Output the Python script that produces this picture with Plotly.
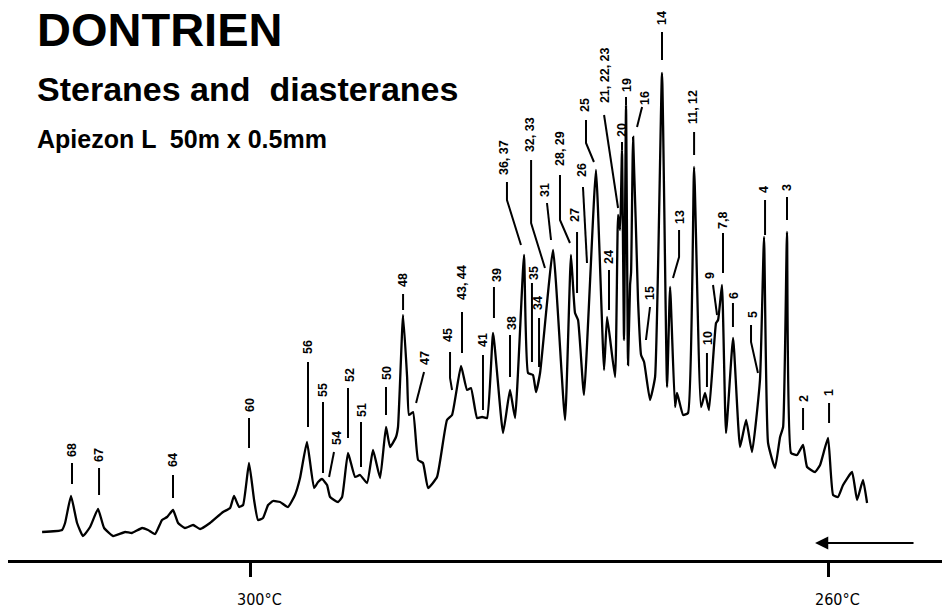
import plotly.graph_objects as go

# ---------------- DATA ----------------
# retention expressed as column temperature (°C), signal in arbitrary detector units
retention_temp = [
    314.39, 313.01, 312.80, 312.39, 311.97, 311.56, 311.07, 310.52, 310.10, 309.48,
    308.65, 308.17, 307.47, 307.06, 306.57, 306.09, 305.74, 305.33, 304.98, 304.50,
    303.94, 303.46, 302.77, 301.87, 301.38, 301.11, 300.76, 300.48, 300.07, 299.72,
    299.45, 299.10, 298.75, 298.41, 297.92, 297.37, 296.89, 296.54, 296.06, 295.57,
    295.29, 295.02, 294.67, 294.46, 293.91, 293.63, 293.22, 292.73, 292.39, 291.90,
    291.49, 291.00, 290.59, 290.31, 289.90, 289.76, 289.41, 289.13, 289.00, 288.72,
    288.37, 288.03, 287.68, 287.06, 286.37, 286.02, 285.40, 284.98, 284.71, 284.29,
    283.94, 283.60, 283.18, 282.49, 282.01, 281.66, 281.04, 280.76, 280.42, 280.21,
    279.93, 279.03, 278.20, 277.79, 277.51, 277.30, 276.89, 276.06, 275.50, 275.29,
    274.74, 274.53, 274.39, 274.26, 274.12, 273.98, 273.84, 273.70, 273.63, 273.49,
    273.15, 272.94, 272.73, 272.32, 271.97, 271.49, 271.14, 270.93, 270.59, 270.45,
    270.03, 269.69, 269.27, 268.79, 268.51, 268.24, 267.75, 267.61, 267.34, 267.06,
    266.57, 266.09, 265.67, 265.26, 264.71, 264.43, 264.15, 263.67, 263.32, 263.11,
    262.84, 262.56, 262.15, 261.73, 261.45, 260.90, 260.55, 260.00, 259.65, 259.31,
    258.96, 258.34, 257.99, 257.58, 257.30,
]
signal = [
    28, 30, 37, 64, 37, 24, 33, 51, 32, 24,
    28, 27, 32, 30, 26, 40, 43, 50, 37, 32,
    35, 31, 37, 48, 52, 64, 53, 55, 97, 60,
    40, 42, 55, 59, 58, 53, 65, 82, 118, 72,
    78, 81, 75, 63, 58, 63, 107, 83, 85, 77,
    110, 82, 133, 113, 123, 133, 245, 183, 145, 148,
    100, 97, 72, 83, 140, 145, 194, 170, 172, 142,
    143, 142, 227, 127, 170, 142, 305, 187, 185, 168,
    187, 310, 140, 305, 247, 240, 165, 390, 190, 243,
    183, 345, 330, 410, 220, 455, 195, 275, 288, 423,
    260, 205, 198, 160, 183, 487, 173, 273, 153, 167,
    145, 147, 393, 153, 167, 150, 237, 240, 275, 127,
    222, 113, 140, 108, 180, 323, 117, 92, 123, 133,
    328, 107, 105, 115, 93, 88, 95, 122, 65, 63,
    75, 88, 60, 80, 57,
]

axis_ticks = [300, 260]
axis_tick_labels = ["300°C", "260°C"]

peak_labels = ["68", "67", "64", "60", "56", "55", "54", "52", "51", "50",
               "48", "47", "45", "43, 44", "41", "39", "38", "36, 37", "35", "34",
               "32, 33", "31", "28, 29", "27", "26", "25", "24", "21, 22, 23", "20", "19",
               "16", "15", "14", "13", "11, 12", "10", "9", "7,8", "6", "5",
               "4", "3", "2", "1"]

# ---------------- LAYOUT (label placement, leader lines) ----------------
# (text position (°C, signal), leader polyline [(°C, signal), ...])
label_geom = [
    ((312.32, 110), [(312.32, 97), (312.32, 76)]),
    ((310.45, 105), [(310.45, 92), (310.45, 65)]),
    ((305.33, 100), [(305.33, 85), (305.33, 62)]),
    ((300.00, 155), [(300.07, 142), (300.07, 112)]),
    ((295.99, 213), [(295.99, 198), (295.99, 133)]),
    ((294.95, 170), [(294.95, 158), (294.95, 87)]),
    ((293.98, 122), [(294.19, 108), (294.53, 83)]),
    ((293.08, 185), [(293.22, 172), (293.22, 122)]),
    ((292.25, 150), [(292.32, 138), (292.32, 93)]),
    ((290.52, 187), [(290.59, 173), (290.59, 145)]),
    ((289.41, 280), [(289.41, 266), (289.41, 250)]),
    ((287.89, 202), [(287.96, 188), (288.51, 157)]),
    ((286.30, 225), [(286.16, 208), (286.16, 182), (286.02, 170)]),
    ((285.33, 277), [(285.33, 248), (285.33, 207)]),
    ((283.88, 220), [(283.88, 205), (283.88, 150)]),
    ((282.91, 285), [(283.12, 273), (283.12, 242)]),
    ((281.87, 237), [(282.01, 225), (282.01, 183)]),
    ((282.42, 402), [(282.22, 378), (282.22, 360), (281.25, 315)]),
    ((280.35, 287), [(280.49, 277), (280.49, 198)]),
    ((280.07, 257), [(280.00, 242), (280.00, 193)]),
    ((280.62, 425), [(280.55, 400), (280.55, 337), (279.59, 292)]),
    ((279.59, 370), [(279.45, 357), (279.17, 320)]),
    ((278.55, 412), [(278.55, 385), (278.55, 340), (277.86, 317)]),
    ((277.51, 345), [(277.37, 328), (277.37, 267)]),
    ((277.03, 390), [(276.96, 373), (276.68, 297)]),
    ((276.82, 455), [(276.75, 440), (276.75, 417), (276.20, 398)]),
    ((275.16, 303), [(275.16, 290), (275.16, 250)]),
    ((275.43, 485), [(275.50, 445), (274.53, 352)]),
    ((274.26, 430), [(274.26, 418), (274.26, 410)]),
    ((273.91, 475), [(273.98, 463), (273.98, 455)]),
    ((272.67, 462), [(272.87, 453), (273.22, 433)]),
    ((272.32, 267), [(272.32, 253), (272.60, 220)]),
    ((271.49, 542), [(271.49, 528), (271.49, 500)]),
    ((270.24, 343), [(270.31, 330), (270.31, 303), (270.73, 282)]),
    ((269.34, 453), [(269.27, 428), (269.27, 405)]),
    ((268.31, 222), [(268.38, 207), (268.38, 173)]),
    ((268.17, 285), [(267.96, 275), (267.68, 245)]),
    ((267.27, 340), [(267.27, 327), (267.27, 287)]),
    ((266.51, 265), [(266.58, 257), (266.58, 233)]),
    ((265.19, 245), [(265.33, 235), (265.33, 218), (264.85, 187)]),
    ((264.43, 370), [(264.36, 360), (264.36, 325)]),
    ((262.84, 372), [(262.84, 363), (262.84, 340)]),
    ((261.66, 161), [(261.73, 152), (261.73, 130)]),
    ((259.93, 167), [(259.93, 157), (259.93, 137)]),
]

LABEL_FONT = dict(family="Liberation Sans, Arial, sans-serif", size=12.5, color="black")

fig = go.Figure()

fig.add_trace(go.Scatter(
    x=retention_temp, y=signal, mode="lines",
    line=dict(color="black", width=2.3, shape="spline", smoothing=0.4),
    hoverinfo="skip", showlegend=False,
))

lx, ly = [], []
for (_, pts) in label_geom:
    for (a, b) in pts:
        lx.append(a)
        ly.append(b)
    lx.append(None)
    ly.append(None)
fig.add_trace(go.Scatter(x=lx, y=ly, mode="lines",
                         line=dict(color="black", width=2),
                         hoverinfo="skip", showlegend=False))

annotations = []
for text, ((tx, ty), _) in zip(peak_labels, label_geom):
    annotations.append(dict(
        x=tx, y=ty, xref="x", yref="y", text="<b>%s</b>" % text,
        textangle=-90, showarrow=False, xanchor="center", yanchor="middle",
        font=LABEL_FONT,
    ))

# axis temperature labels (below the axis line, in paper units)
for t, lab in zip(axis_ticks, axis_tick_labels):
    annotations.append(dict(
        x=t, y=-0.072, xref="x", yref="paper", text=lab, showarrow=False,
        xanchor="center", yanchor="middle", xshift=9,
        font=dict(family="Liberation Sans Narrow, DejaVu Sans Condensed, sans-serif",
                  size=16, color="black"),
    ))

# direction arrow
annotations.append(dict(
    x=260.9, y=17, ax=253.98, ay=17, xref="x", yref="y", axref="x", ayref="y",
    text="", showarrow=True, arrowhead=2, arrowsize=1.2, arrowwidth=2.2,
    arrowcolor="black",
))

# titles
annotations += [
    dict(x=0.0287, y=531, xref="paper", yref="y", text="<b>DONTRIEN</b>",
         showarrow=False, xanchor="left", yanchor="middle",
         font=dict(family="Liberation Sans, Arial, sans-serif", size=47, color="black")),
    dict(x=0.0287, y=471, xref="paper", yref="y", text="<b>Steranes and  diasteranes</b>",
         showarrow=False, xanchor="left", yanchor="middle",
         font=dict(family="Liberation Sans, Arial, sans-serif", size=34, color="black")),
    dict(x=0.0287, y=421, xref="paper", yref="y", text="<b>Apiezon L  50m x 0.5mm</b>",
         showarrow=False, xanchor="left", yanchor="middle",
         font=dict(family="Liberation Sans, Arial, sans-serif", size=25, color="black")),
]

# the page body adds an 8 px margin; the figure fills the rest of the window
fig.update_layout(
    width=942, height=602,
    margin=dict(l=0, r=0, t=0, b=50),
    paper_bgcolor="white", plot_bgcolor="white",
    showlegend=False,
    annotations=annotations,
    xaxis=dict(range=[316.75, 251.56], showgrid=False, zeroline=False,
               showline=True, linecolor="black", linewidth=3,
               ticks="outside", ticklen=14, tickwidth=2.5, tickcolor="black",
               tickvals=axis_ticks, showticklabels=False, fixedrange=True),
    yaxis=dict(range=[0, 552], visible=False, showgrid=False, zeroline=False,
               fixedrange=True),
)

fig.write_html("out.html")
